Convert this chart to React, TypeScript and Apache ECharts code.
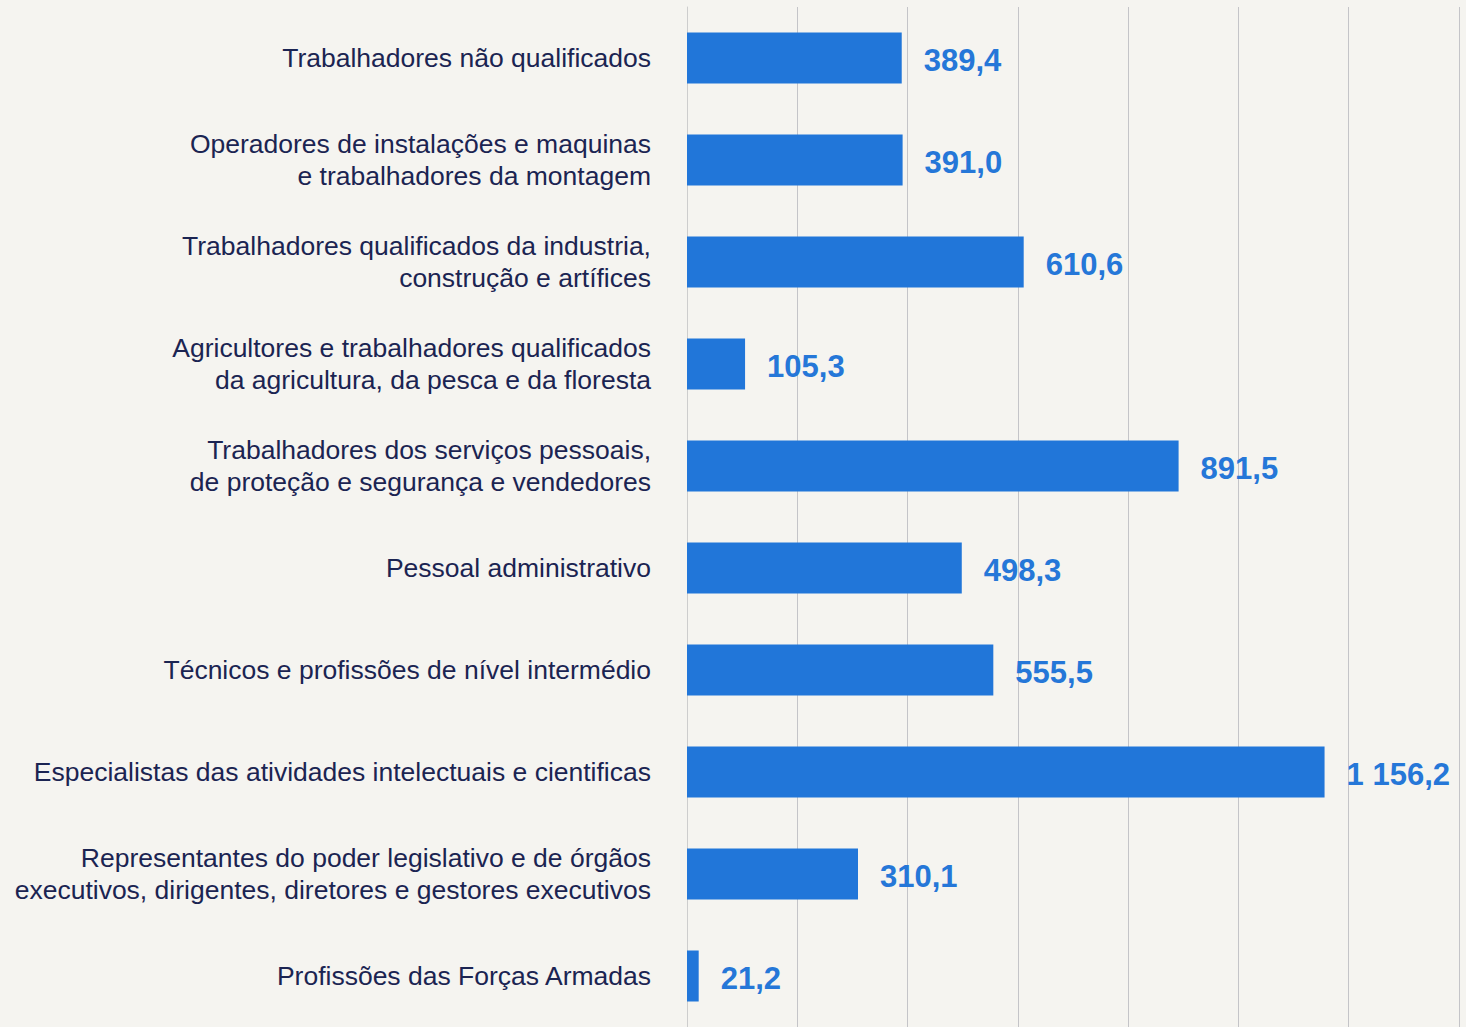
import React, { useEffect, useRef } from "react";
import * as echarts from "echarts";

const categories: string[] = [
  "Trabalhadores não qualificados",
  "Operadores de instalações e maquinas\ne trabalhadores da montagem",
  "Trabalhadores qualificados da industria,\nconstrução e artífices",
  "Agricultores e trabalhadores qualificados\nda agricultura, da pesca e da floresta",
  "Trabalhadores dos serviços pessoais,\nde proteção e segurança e vendedores",
  "Pessoal administrativo",
  "Técnicos e profissões de nível intermédio",
  "Especialistas das atividades intelectuais e cientificas",
  "Representantes do poder legislativo e de órgãos\nexecutivos, dirigentes, diretores e gestores executivos",
  "Profissões das Forças Armadas",
];

const values: number[] = [389.4, 391.0, 610.6, 105.3, 891.5, 498.3, 555.5, 1156.2, 310.1, 21.2];

const fmt = (v: number): string => {
  const [i, d] = v.toFixed(1).split(".");
  const withSpace = i.replace(/\B(?=(\d{3})+(?!\d))/g, " ");
  return withSpace + "," + d;
};

export default function App() {
  const ref = useRef<HTMLDivElement>(null);
  useEffect(() => {
    document.body.style.margin = "0";
    document.body.style.background = "#f5f4f0";
    const chart = echarts.init(ref.current!, null, { renderer: "svg" });
    chart.setOption({
      animation: false,
      backgroundColor: "#f5f4f0",
      grid: { left: 687, right: 7, top: 7, height: 1024, containLabel: false },
      xAxis: {
        type: "value",
        min: 0,
        max: 1400,
        interval: 200,
        axisLabel: { show: false },
        axisLine: { show: false },
        axisTick: { show: false },
        splitLine: { show: true, lineStyle: { color: "#c4c4c8", width: 1 } },
      },
      yAxis: {
        type: "category",
        inverse: true,
        data: categories,
        axisLine: { show: true, lineStyle: { color: "#cdcdcd", width: 1 } },
        axisTick: { show: false },
        axisLabel: {
          margin: 36,
          fontFamily: "Liberation Sans, Arial, sans-serif",
          fontSize: 26.5,
          lineHeight: 32,
          color: "#1b2452",
          align: "right",
        },
      },
      series: [
        {
          type: "bar",
          data: values,
          barWidth: 51,
          itemStyle: { color: "#2176d9" },
          label: {
            show: true,
            position: "right",
            distance: 22,
            offset: [0, 2],
            formatter: (p: any) => fmt(p.value),
            fontFamily: "Liberation Sans, Arial, sans-serif",
            fontWeight: "bold",
            fontSize: 31,
            color: "#2577d8",
          },
        },
      ],
    });
    return () => chart.dispose();
  }, []);
  return <div ref={ref} style={{ width: 1466, height: 1027, background: "#f5f4f0" }} />;
}
